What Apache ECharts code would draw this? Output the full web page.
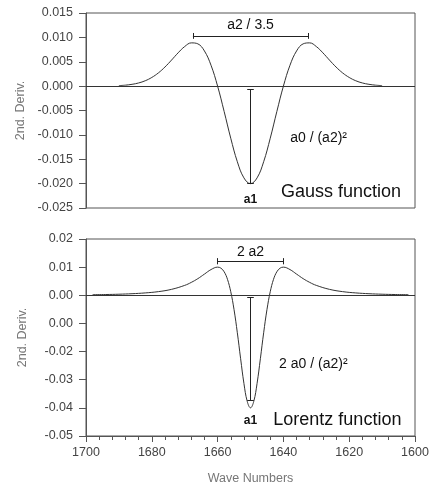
<!DOCTYPE html>
<html>
<head>
<meta charset="UTF-8">
<title>2nd derivative</title>
<script type="text/javascript" src="https://cdn.jsdelivr.net/npm/echarts@6.0.0/dist/echarts.min.js"></script>
<style>
html, body { margin: 0; padding: 0; background: #fff; }
#chart { width: 432px; height: 486px; }
</style>
</head>
<body>
<div id="chart"></div>
<script type="text/javascript">
// data
var gaussWave = [1690, 1688, 1686, 1684, 1682, 1680, 1678, 1676, 1674, 1672, 1670, 1668, 1666, 1664, 1662, 1660,
	1658, 1656, 1654, 1652, 1650, 1648, 1646, 1644, 1642, 1640, 1638, 1636, 1634, 1632, 1630, 1628,
	1626, 1624, 1622, 1620, 1618, 1616, 1614, 1612, 1610];
var gaussDeriv = [0.0001, 0.0002, 0.00037, 0.00065, 0.0011, 0.00178, 0.00271, 0.00392, 0.00534, 0.00683, 0.00812, 0.00887, 0.00867, 0.00721, 0.00428, 0.0,
	-0.00523, -0.01069, -0.01551, -0.01882, -0.02, -0.01882, -0.01551, -0.01069, -0.00523, 0.0, 0.00428, 0.00721, 0.00867, 0.00887, 0.00812, 0.00683,
	0.00534, 0.00392, 0.00271, 0.00178, 0.0011, 0.00065, 0.00037, 0.0002, 0.0001];

var lorentzWave = [1698, 1694, 1690, 1686, 1682, 1678, 1674, 1670, 1668, 1666, 1664, 1662, 1660, 1659, 1658, 1657, 1656, 1655, 1654, 1653, 1652, 1651,
	1650, 1649, 1648, 1647, 1646, 1645, 1644, 1643, 1642, 1641, 1640, 1638, 1636, 1634, 1632, 1630, 1626, 1622, 1618, 1614, 1610, 1606, 1602];
var lorentzDeriv = [0.0002, 0.00027, 0.00038, 0.00056, 0.00084, 0.0013, 0.00211, 0.00352, 0.00458, 0.00592, 0.00753, 0.00914, 0.01, 0.00965, 0.00834, 0.00568, 0.00127, -0.00512, -0.01332, -0.02255, -0.03129, -0.03766,
	-0.04, -0.03766, -0.03129, -0.02255, -0.01332, -0.00512, 0.00127, 0.00568, 0.00834, 0.00965, 0.01, 0.00914, 0.00753, 0.00592, 0.00458, 0.00352, 0.00211, 0.0013, 0.00084, 0.00056, 0.00038, 0.00027, 0.0002];

// tick labels (the original shows 0.00 twice on the lower plot)
var gaussTicks = ["-0.025", "-0.020", "-0.015", "-0.010", "-0.005", "0.000", "0.005", "0.010", "0.015"];
var lorentzTicks = ["-0.05", "-0.04", "-0.03", "-0.02", "0.00", "0.00", "0.01", "0.02"];
var waveTicks = ["1600", "1620", "1640", "1660", "1680", "1700"];

var FONT = "Liberation Sans";

function pairs(xs, ys) {
	var out = [];
	for (var i = 0; i < xs.length; i++) out.push([xs[i], ys[i]]);
	return out;
}

// line segment helper for markLine
function seg(x1, y1, x2, y2) {
	return [{ coord: [x1, y1] }, { coord: [x2, y2] }];
}

function txt(x, y, text, size, weight) {
	return {
		coord: [x, y], value: text,
		label: { show: true, position: "inside", formatter: text, color: "#111", fontFamily: FONT, fontSize: size, fontWeight: weight || "normal" }
	};
}

var chart = echarts.init(document.getElementById("chart"), null, { renderer: "canvas" });

var yBase = {
	type: "value",
	axisLine: { show: true, lineStyle: { color: "#555", width: 1 } },
	axisTick: { show: true, inside: false, length: 7, lineStyle: { color: "#555" } },
	splitLine: { show: false },
	name: "2nd. Deriv.",
	nameLocation: "middle",
	nameGap: 57,
	nameTextStyle: { color: "#777", fontFamily: FONT, fontSize: 12.5 }
};

var option = {
	animation: false,
	backgroundColor: "#fff",
	grid: [
		{ left: 86, right: 17, top: 13, height: 195, show: true, borderColor: "#555", borderWidth: 1, backgroundColor: "transparent" },
		{ left: 86, right: 17, top: 239, height: 197, show: true, borderColor: "#555", borderWidth: 1, backgroundColor: "transparent" }
	],
	xAxis: [
		{
			gridIndex: 0, type: "value", min: 1600, max: 1700, interval: 20, inverse: true,
			axisLine: { show: false }, axisTick: { show: false }, axisLabel: { show: false }, splitLine: { show: false }
		},
		{
			gridIndex: 1, type: "value", min: 1600, max: 1700, interval: 20, inverse: true,
			axisLine: { show: true, onZero: false, lineStyle: { color: "#555", width: 1 } },
			axisTick: { show: true, inside: false, length: 6, lineStyle: { color: "#555" } },
			minorTick: { show: true, splitNumber: 5, length: 4, lineStyle: { color: "#555" } },
			axisLabel: {
				color: "#444", fontFamily: FONT, fontSize: 12.5, margin: 10,
				formatter: function (v) { return waveTicks[Math.round((v - 1600) / 20)]; }
			},
			splitLine: { show: false },
			name: "Wave Numbers", nameLocation: "middle", nameGap: 36,
			nameTextStyle: { color: "#777", fontFamily: FONT, fontSize: 12.5 }
		}
	],
	yAxis: [
		Object.assign({}, yBase, {
			gridIndex: 0, min: -0.025, max: 0.015, interval: 0.005,
			axisLabel: {
				color: "#444", fontFamily: FONT, fontSize: 12.5, margin: 13,
				formatter: function (v) { return gaussTicks[Math.round((v + 0.025) / 0.005)]; }
			}
		}),
		Object.assign({}, yBase, {
			gridIndex: 1, min: -0.05, max: 0.02, interval: 0.01,
			axisLabel: {
				color: "#444", fontFamily: FONT, fontSize: 12.5, margin: 13,
				formatter: function (v) { return lorentzTicks[Math.round((v + 0.05) / 0.01)]; }
			}
		})
	],
	series: [
		{
			name: "Gauss", type: "line", xAxisIndex: 0, yAxisIndex: 0,
			data: pairs(gaussWave, gaussDeriv),
			showSymbol: false, symbol: "none", smooth: 0.4,
			lineStyle: { color: "#333", width: 1 },
			markLine: {
				silent: true, symbol: ["none", "none"], label: { show: false },
				lineStyle: { color: "#222", width: 1, type: "solid" },
				data: [
					{ yAxis: 0, lineStyle: { color: "#333" } },
					seg(1667.5, 0.0103, 1632.5, 0.0103),
					seg(1667.5, 0.0097, 1667.5, 0.0109),
					seg(1632.5, 0.0097, 1632.5, 0.0109),
					seg(1650, -0.0006, 1650, -0.0199),
					seg(1651, -0.0006, 1649, -0.0006),
					seg(1651, -0.0199, 1649, -0.0199)
				]
			},
			markPoint: {
				silent: true, symbol: "circle", symbolSize: 0,
				data: [
					txt(1650, 0.01254, "a2 / 3.5", 14),
					txt(1629.3, -0.0106, "a0 / (a2)\u00b2", 14),
					txt(1650, -0.0232, "a1", 12, "bold"),
					txt(1622.5, -0.0217, "Gauss function", 18)
				]
			}
		},
		{
			name: "Lorentz", type: "line", xAxisIndex: 1, yAxisIndex: 1,
			data: pairs(lorentzWave, lorentzDeriv),
			showSymbol: false, symbol: "none", smooth: 0.4,
			lineStyle: { color: "#333", width: 1 },
			markLine: {
				silent: true, symbol: ["none", "none"], label: { show: false },
				lineStyle: { color: "#222", width: 1, type: "solid" },
				data: [
					{ yAxis: 0, lineStyle: { color: "#333" } },
					seg(1660, 0.0121, 1640, 0.0121),
					seg(1660, 0.011, 1660, 0.0132),
					seg(1640, 0.011, 1640, 0.0132),
					seg(1650, -0.0007, 1650, -0.0374),
					seg(1651, -0.0007, 1649, -0.0007),
					seg(1651, -0.0374, 1649, -0.0374)
				]
			},
			markPoint: {
				silent: true, symbol: "circle", symbolSize: 0,
				data: [
					txt(1650, 0.0155, "2 a2", 14),
					txt(1630.9, -0.0244, "2 a0 / (a2)\u00b2", 14),
					txt(1650, -0.0446, "a1", 12, "bold"),
					txt(1623.6, -0.0443, "Lorentz function", 18)
				]
			}
		}
	]
};

chart.setOption(option);
</script>
</body>
</html>
